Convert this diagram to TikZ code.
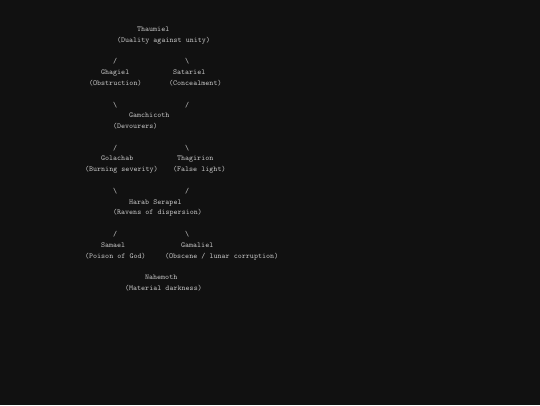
\documentclass[tikz,border=0pt]{standalone}
\definecolor{bg}{HTML}{111111}
\definecolor{fg}{HTML}{C0C0C0}
\tikzset{
  txt/.style={anchor=base west, inner sep=0pt, outer sep=0pt, text=fg,
    font=\ttfamily\fontsize{7.62pt}{9pt}\selectfont},
}
\begin{document}
\begin{tikzpicture}
\fill[bg] (0,0) rectangle (540pt,-405pt);
\useasboundingbox (0,0) rectangle (540pt,-405pt);
\begin{scope}[shift={(85pt,-31.5pt)}, x={(4.0pt,0)}, y={(0,-10.79pt)}]
  % level 0
  \node[txt] (thaumiel)  at (13,0) {Thaumiel};
  \node[txt] (thaumielD) at (8,1)  {(Duality against unity)};
  \node[txt] (c1a) at (7,3)  {/};
  \node[txt] (c1b) at (25,3) {\textbackslash};
  % level 1
  \node[txt] (ghagiel)   at (4,4)  {Ghagiel};
  \node[txt] (ghagielD)  at (1,5)  {(Obstruction)};
  \node[txt] (satariel)  at (22,4) {Satariel};
  \node[txt] (satarielD) at (21,5) {(Concealment)};
  \node[txt] (c2a) at (7,7)  {\textbackslash};
  \node[txt] (c2b) at (25,7) {/};
  % level 2
  \node[txt] (gamchicoth)  at (11,8) {Gamchicoth};
  \node[txt] (gamchicothD) at (7,9)  {(Devourers)};
  \node[txt] (c3a) at (7,11)  {/};
  \node[txt] (c3b) at (25,11) {\textbackslash};
  % level 3
  \node[txt] (golachab)   at (4,12)  {Golachab};
  \node[txt] (golachabD)  at (0,13)  {(Burning severity)};
  \node[txt] (thagirion)  at (23,12) {Thagirion};
  \node[txt] (thagirionD) at (22,13) {(False light)};
  \node[txt] (c4a) at (7,15)  {\textbackslash};
  \node[txt] (c4b) at (25,15) {/};
  % level 4
  \node[txt] (harab)  at (11,16) {Harab Serapel};
  \node[txt] (harabD) at (7,17)  {(Ravens of dispersion)};
  \node[txt] (c5a) at (7,19)  {/};
  \node[txt] (c5b) at (25,19) {\textbackslash};
  % level 5
  \node[txt] (samael)    at (4,20)  {Samael};
  \node[txt] (samaelD)   at (0,21)  {(Poison of God)};
  \node[txt] (gamaliel)  at (24,20) {Gamaliel};
  \node[txt] (gamalielD) at (20,21) {(Obscene / lunar corruption)};
  % level 6
  \node[txt] (nahemoth)  at (15,23) {Nahemoth};
  \node[txt] (nahemothD) at (10,24) {(Material darkness)};
\end{scope}
\end{tikzpicture}
\end{document}
